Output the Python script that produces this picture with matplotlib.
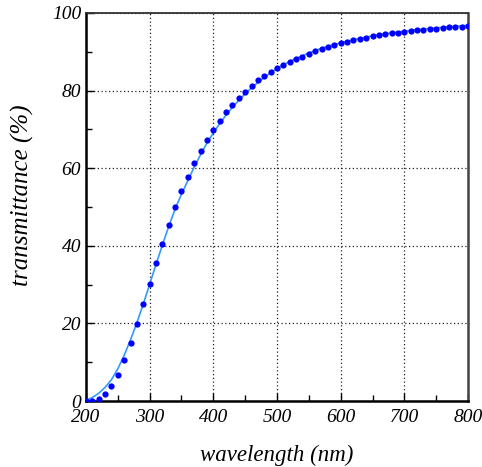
import matplotlib
matplotlib.use("Agg")
import matplotlib.pyplot as plt
from matplotlib.ticker import MultipleLocator

# measured data points (every 10 nm)
wl_pts = list(range(200, 801, 10))
tr_pts = [0.0, 0.0, 0.4, 1.7, 3.9, 6.8, 10.6, 14.9, 19.8, 25.0,
          30.2, 35.5, 40.5, 45.3, 49.9, 54.1, 57.7, 61.3, 64.4, 67.3,
          69.9, 72.2, 74.4, 76.4, 78.1, 79.7, 81.2, 82.6, 83.8, 84.8,
          85.9, 86.6, 87.4, 88.1, 88.7, 89.5, 90.2, 90.8, 91.2, 91.8,
          92.2, 92.6, 93.0, 93.3, 93.6, 94.0, 94.2, 94.5, 94.8, 94.9,
          95.1, 95.3, 95.5, 95.6, 95.8, 96.0, 96.1, 96.3, 96.4, 96.5,
          96.6]

# fitted curve
wl_fit = [200, 210, 220, 230, 240, 250, 260, 270, 280, 290, 300, 310, 320,
          330, 340, 350, 360, 370, 380, 390, 400, 410, 420, 430, 440, 450,
          460, 470, 480, 490, 500, 510, 520, 530, 540, 550, 560, 570, 580,
          590, 600, 620, 640, 660, 680, 700, 720, 740, 760, 780, 800]
tr_fit = [0.2, 0.9, 2.0, 3.5, 5.5, 8.3, 11.8, 15.8, 20.2, 25.0, 30.1, 35.2,
          40.2, 45.0, 49.5, 53.3, 56.8, 60.3, 63.5, 66.5, 69.1, 71.5, 73.7,
          75.7, 77.5, 79.2, 80.7, 82.1, 83.4, 84.6, 85.7, 86.6, 87.5, 88.3,
          89.0, 89.7, 90.3, 90.9, 91.4, 91.9, 92.3, 93.1, 93.8, 94.4, 94.9,
          95.3, 95.7, 96.0, 96.3, 96.6, 96.8]

x_ticks = [200, 300, 400, 500, 600, 700, 800]
y_ticks = [0, 20, 40, 60, 80, 100]

plt.rcParams['font.family'] = ['Liberation Serif', 'DejaVu Serif']
plt.rcParams['font.style'] = 'italic'

fig = plt.figure(figsize=(4.82, 4.67), dpi=100)
ax = fig.add_axes([0.1784, 0.1413, 0.7926, 0.8309])

ax.plot(wl_fit, tr_fit, color='#3399ff', lw=1.2, zorder=3)
ax.plot(wl_pts, tr_pts, 'o', color='#0000ff', markersize=4.5, markeredgewidth=0, zorder=4)

ax.set_xlim(200, 800)
ax.set_ylim(0, 100)
ax.set_xticks(x_ticks, [str(v) for v in x_ticks], fontsize=14, fontstyle='italic')
ax.set_yticks(y_ticks, [str(v) for v in y_ticks], fontsize=14, fontstyle='italic')
ax.xaxis.set_minor_locator(MultipleLocator(50))
ax.yaxis.set_minor_locator(MultipleLocator(10))
ax.tick_params(which='both', direction='in')
ax.tick_params(which='major', length=6, width=1)
ax.tick_params(which='minor', length=4, width=1)
ax.tick_params(axis='x', pad=6)
ax.grid(True, which='major', linestyle=(0, (1, 2)), color='#222222', lw=0.9)

ax.spines['left'].set_linewidth(1.8)
ax.spines['bottom'].set_linewidth(1.8)
ax.spines['top'].set_linewidth(1.3)
ax.spines['right'].set_linewidth(1.8)
ax.spines['top'].set_color('#333333')
ax.spines['right'].set_color('#444444')

ax.set_xlabel('wavelength (nm)', fontsize=16.5, labelpad=13)
ax.set_ylabel('transmittance (%)', fontsize=18)
ax.yaxis.set_label_coords(-0.136, 0.531)

fig.savefig('out.png', dpi=100)
